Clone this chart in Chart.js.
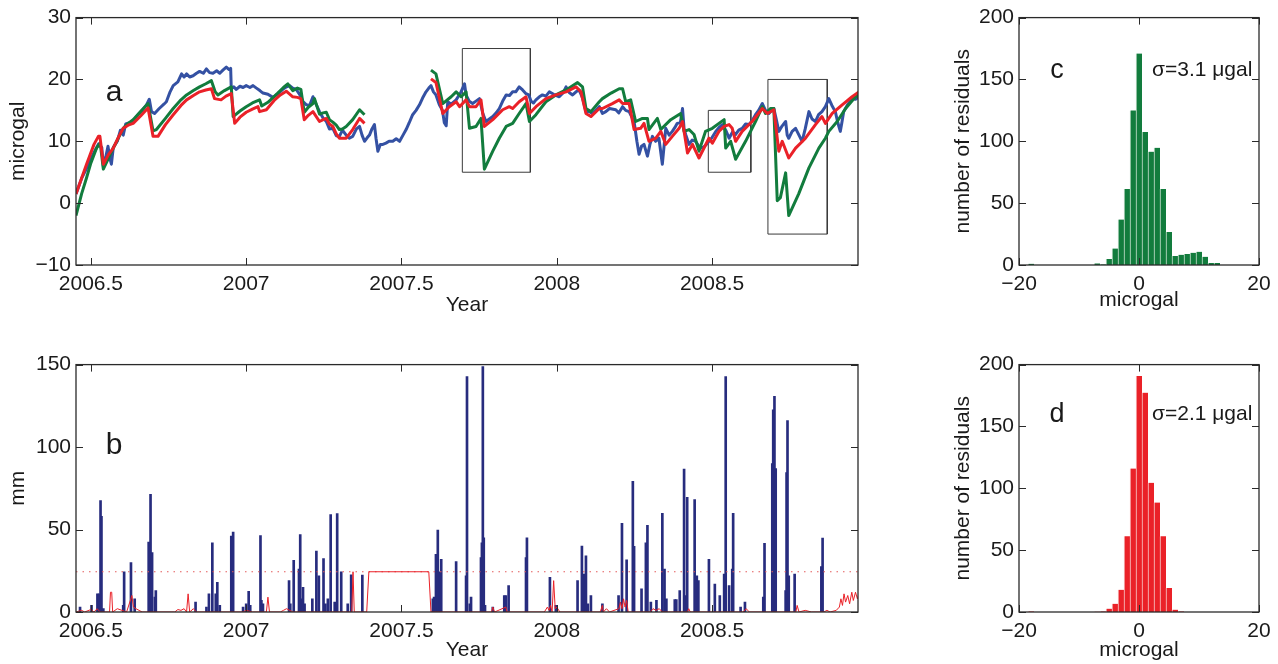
<!DOCTYPE html>
<html>
<head>
<meta charset="utf-8">
<title>Gravity residuals and rainfall</title>
<script src="https://cdn.jsdelivr.net/npm/chart.js@4.4.0/dist/chart.umd.min.js"></script>
<style>
  body { margin: 0; background: #fff; width: 1278px; height: 664px; overflow: hidden; position: relative;
         font-family: "Liberation Sans", Arial, sans-serif; color: #1a1a1a; }
  canvas { position: absolute; }
  .tag { position: absolute; transform: translate(-50%, -50%); line-height: 1; }
  .sigma { position: absolute; transform: translateY(-50%); font-size: 21px; white-space: nowrap; line-height: 1; }
</style>
</head>
<body>
<canvas id="gravity" width="880" height="330" style="left:0;top:0"></canvas>
<canvas id="rain" width="880" height="317" style="left:0;top:347px"></canvas>
<canvas id="histGreen" width="338" height="330" style="left:940px;top:0"></canvas>
<canvas id="histRed" width="338" height="317" style="left:940px;top:347px"></canvas>
<div class="tag" style="left:114px;top:91px;font-size:30px">a</div>
<div class="tag" style="left:114px;top:444px;font-size:30px">b</div>
<div class="tag" style="left:1057px;top:69px;font-size:27px">c</div>
<div class="tag" style="left:1057px;top:413px;font-size:27px">d</div>
<div class="sigma" style="left:1152px;top:68px">σ=3.1 μgal</div>
<div class="sigma" style="left:1152px;top:412px">σ=2.1 μgal</div>
<script>
// axis ranges and tick labels
const yearMin = 2006.452, yearMax = 2008.97;
const yearTicks = [2006.5, 2007, 2007.5, 2008, 2008.5];
const gravityTicks = [-10, 0, 10, 20, 30];
const rainTicks = [0, 50, 100, 150];
const countTicks = [0, 50, 100, 150, 200];
const residualTicks = [-20, 0, 20];

// observed gravity (microgal)
const obsYears = [2006.452, 2006.47, 2006.49, 2006.51, 2006.525, 2006.535, 2006.54, 2006.548, 2006.555, 2006.56,
  2006.566, 2006.572, 2006.585, 2006.595, 2006.604, 2006.612, 2006.625, 2006.636, 2006.65, 2006.665,
  2006.679, 2006.688, 2006.695, 2006.705, 2006.72, 2006.735, 2006.743, 2006.755, 2006.765, 2006.78,
  2006.792, 2006.8, 2006.808, 2006.818, 2006.829, 2006.84, 2006.85, 2006.862, 2006.872, 2006.882,
  2006.893, 2006.905, 2006.915, 2006.925, 2006.936, 2006.945, 2006.95, 2006.952, 2006.96, 2006.968,
  2006.98, 2006.99, 2007.0, 2007.012, 2007.022, 2007.033, 2007.044, 2007.054, 2007.07, 2007.086,
  2007.1, 2007.118, 2007.13, 2007.14, 2007.15, 2007.161, 2007.172, 2007.183, 2007.194, 2007.204,
  2007.215, 2007.225, 2007.236, 2007.247, 2007.258, 2007.268, 2007.279, 2007.29, 2007.3, 2007.31,
  2007.322, 2007.332, 2007.343, 2007.355, 2007.365, 2007.373, 2007.381, 2007.39, 2007.397, 2007.405,
  2007.413, 2007.418, 2007.424, 2007.432, 2007.44, 2007.45, 2007.46, 2007.472, 2007.483, 2007.494,
  2007.505, 2007.515, 2007.525, 2007.536, 2007.547, 2007.558, 2007.568, 2007.579, 2007.588, 2007.595,
  2007.603, 2007.611, 2007.622, 2007.632, 2007.638, 2007.644, 2007.649, 2007.66, 2007.676, 2007.69,
  2007.703, 2007.708, 2007.718, 2007.729, 2007.74, 2007.751, 2007.762, 2007.772, 2007.783, 2007.794,
  2007.805, 2007.815, 2007.826, 2007.837, 2007.848, 2007.858, 2007.868, 2007.879, 2007.89, 2007.901,
  2007.91, 2007.917, 2007.925, 2007.933, 2007.944, 2007.954, 2007.965, 2007.976, 2007.99, 2008.008,
  2008.02, 2008.03, 2008.04, 2008.051, 2008.062, 2008.072, 2008.083, 2008.094, 2008.105, 2008.115,
  2008.126, 2008.137, 2008.147, 2008.158, 2008.17, 2008.19, 2008.2, 2008.212, 2008.222, 2008.233,
  2008.249, 2008.258, 2008.265, 2008.273, 2008.281, 2008.292, 2008.3, 2008.308, 2008.318, 2008.329,
  2008.34, 2008.351, 2008.362, 2008.372, 2008.38, 2008.388, 2008.398, 2008.405, 2008.41, 2008.415,
  2008.426, 2008.436, 2008.447, 2008.458, 2008.469, 2008.48, 2008.49, 2008.5, 2008.512, 2008.522,
  2008.533, 2008.544, 2008.555, 2008.566, 2008.576, 2008.586, 2008.597, 2008.608, 2008.619, 2008.63,
  2008.64, 2008.65, 2008.662, 2008.672, 2008.683, 2008.692, 2008.699, 2008.707, 2008.715, 2008.726,
  2008.737, 2008.742, 2008.747, 2008.758, 2008.769, 2008.78, 2008.79, 2008.8, 2008.812, 2008.822,
  2008.833, 2008.843, 2008.854, 2008.865, 2008.876, 2008.886, 2008.897, 2008.905, 2008.913, 2008.918,
  2008.924, 2008.935, 2008.951, 2008.962, 2008.973];
const obsGravity = [1.5, 4, 6, 8.2, 9.6, 9.0, 6.0, 7.5, 9.2, 7.5,
  6.3, 9.0, 10.0, 11.8, 11.0, 12.8, 13.0, 13.3, 14.2, 15.0,
  15.9, 16.8, 14.8, 14.5, 15.3, 16.0, 16.4, 18.0, 19.0, 19.6,
  20.9, 20.4, 20.9, 20.4, 20.6, 21.0, 21.3, 21.0, 21.7, 21.1,
  21.0, 21.4, 21.0, 21.5, 22.0, 21.6, 21.8, 18.5, 18.8, 18.4,
  18.9, 18.7, 19.0, 18.7, 19.0, 18.6, 18.2, 17.8, 17.6, 17.1,
  17.6, 18.4, 18.8, 19.0, 18.6, 18.4, 17.6, 16.4, 15.9, 15.8,
  17.2, 16.0, 14.8, 13.8, 13.2, 12.0, 12.1, 10.9, 10.8, 11.8,
  11.0, 10.5, 10.8, 12.0, 12.4, 11.0, 10.0, 10.6, 11.0, 12.0,
  12.7, 10.5, 8.4, 9.5, 9.5, 9.7, 10.0, 10.0, 10.4, 10.0,
  11.0, 11.9, 13.0, 14.3, 15.0, 15.9, 17.0, 18.0, 18.6, 19.0,
  18.0, 17.5, 15.9, 15.0, 13.0, 12.5, 16.4, 16.0, 16.7, 17.8,
  19.3, 17.5, 16.5, 16.1, 16.5, 16.9, 14.5, 13.2, 13.6, 14.0,
  14.6, 15.3, 16.5, 17.5, 17.4, 18.0, 18.0, 18.8, 18.3, 17.7,
  17.5, 16.5, 16.2, 16.7, 17.2, 17.5, 17.3, 18.0, 17.6, 17.2,
  17.8, 18.8, 17.9, 17.5, 18.0, 18.3, 17.0, 14.8, 14.8, 14.5,
  15.0, 15.6, 14.5, 14.8, 15.3, 15.1, 14.6, 15.6, 15.0, 14.8,
  13.2, 10.0, 7.9, 9.2, 9.5, 7.6, 9.5, 10.8, 10.0, 10.5,
  6.3, 12.1, 11.0, 11.6, 12.2, 12.9, 13.0, 15.3, 12.0, 11.1,
  9.5, 10.2, 10.0, 9.2, 8.9, 9.4, 10.0, 10.6, 11.6, 12.2,
  12.7, 11.8, 10.5, 11.5, 11.1, 11.8, 12.1, 12.8, 12.7, 13.4,
  14.3, 15.0, 16.1, 15.0, 14.5, 15.0, 15.3, 13.5, 11.6, 12.5,
  13.2, 11.0, 10.5, 11.6, 12.1, 11.0, 10.0, 12.0, 14.8, 13.6,
  13.2, 14.3, 14.8, 15.6, 16.9, 15.8, 14.8, 13.0, 11.6, 13.0,
  14.8, 15.8, 16.9, 16.8, 17.2];

// first model (null = no model output)
const modelAYears = [2006.452, 2006.47, 2006.486, 2006.5, 2006.518, 2006.53, 2006.54, 2006.556, 2006.572, 2006.59,
  2006.604, 2006.62, 2006.636, 2006.66, 2006.684, 2006.7, 2006.711, 2006.74, 2006.765, 2006.79,
  2006.808, 2006.83, 2006.85, 2006.87, 2006.888, 2006.9, 2006.909, 2006.93, 2006.952, 2006.958,
  2006.98, 2007.0, 2007.02, 2007.043, 2007.05, 2007.07, 2007.1, 2007.12, 2007.134, 2007.15,
  2007.165, 2007.176, 2007.187, 2007.2, 2007.215, 2007.22, 2007.236, 2007.248, 2007.258, 2007.268,
  2007.279, 2007.29, 2007.3, 2007.31, 2007.322, 2007.343, 2007.365, 2007.381, 2007.49,
  2007.595, 2007.611, 2007.633, 2007.66, 2007.676, 2007.692, 2007.708, 2007.719, 2007.74, 2007.756,
  2007.767, 2007.794, 2007.815, 2007.837, 2007.858, 2007.879, 2007.901, 2007.912, 2007.933, 2007.965,
  2007.997, 2008.03, 2008.067, 2008.083, 2008.094, 2008.11, 2008.137, 2008.147, 2008.175, 2008.201,
  2008.212, 2008.222, 2008.238, 2008.254, 2008.276, 2008.292, 2008.297, 2008.324, 2008.335, 2008.367,
  2008.399, 2008.41, 2008.426, 2008.442, 2008.458, 2008.479, 2008.501, 2008.539, 2008.544, 2008.56,
  2008.576, 2008.608, 2008.64, 2008.662, 2008.672, 2008.688, 2008.699, 2008.71, 2008.72, 2008.737,
  2008.747, 2008.779, 2008.812, 2008.844, 2008.865, 2008.876, 2008.903, 2008.93, 2008.962, 2008.973];
const modelAGravity = [-2, 1.5, 4.1, 6.5, 8.9, 9.7, 5.5, 7.2, 8.9, 10.7,
  12.1, 12.9, 13.5, 14.8, 16.1, 11.7, 11.9, 13.7, 15.3, 16.7,
  17.5, 18.2, 18.8, 19.3, 19.8, 18.0, 17.5, 18.2, 18.8, 14.0,
  14.9, 15.6, 16.2, 16.7, 15.7, 16.3, 17.7, 18.7, 19.3, 18.2,
  18.6, 18.4, 14.7, 15.5, 16.1, 16.9, 14.4, 14.6, 14.7, 13.5,
  13.1, 12.6, 11.9, 12.0, 12.4, 13.5, 15.1, 14.3, null,
  21.5, 20.9, 16.1, 17.2, 18.0, 17.2, 18.0, 12.1, 12.4, 13.7,
  5.5, 8.4, 10.5, 12.4, 12.9, 14.5, 16.1, 13.2, 14.3, 16.4,
  17.5, 18.3, 19.5, 18.8, 15.3, 14.8, 16.4, 16.9, 17.8, 18.5,
  18.5, 16.4, 16.7, 13.2, 13.7, 13.7, 11.9, 13.7, 11.9, 13.5,
  14.5, 11.6, 11.9, 11.1, 8.4, 11.6, 12.1, 13.5, 8.9, 10.0,
  7.1, 10.0, 13.2, 15.6, 14.5, 15.3, 15.3, 0.4, 0.9, 4.9,
  -2.0, 1.5, 5.7, 8.9, 10.5, 11.6, 13.2, 15.3, 17.2, 17.5];

// second model
const modelBYears = [2006.452, 2006.486, 2006.51, 2006.524, 2006.529, 2006.54, 2006.556, 2006.572, 2006.59, 2006.604,
  2006.62, 2006.636, 2006.66, 2006.684, 2006.7, 2006.716, 2006.74, 2006.765, 2006.79, 2006.808,
  2006.83, 2006.85, 2006.87, 2006.888, 2006.898, 2006.919, 2006.935, 2006.952, 2006.963, 2006.98,
  2007.0, 2007.02, 2007.038, 2007.043, 2007.065, 2007.09, 2007.11, 2007.129, 2007.15, 2007.165,
  2007.176, 2007.187, 2007.2, 2007.215, 2007.236, 2007.248, 2007.258, 2007.268, 2007.279, 2007.29,
  2007.3, 2007.322, 2007.343, 2007.365, 2007.381, 2007.49,
  2007.595, 2007.611, 2007.633, 2007.654, 2007.676, 2007.687, 2007.708, 2007.719, 2007.74, 2007.756,
  2007.767, 2007.794, 2007.826, 2007.847, 2007.858, 2007.879, 2007.901, 2007.912, 2007.933, 2007.965,
  2007.997, 2008.03, 2008.062, 2008.078, 2008.094, 2008.11, 2008.137, 2008.147, 2008.179, 2008.201,
  2008.212, 2008.233, 2008.249, 2008.27, 2008.281, 2008.297, 2008.319, 2008.335, 2008.351, 2008.372,
  2008.394, 2008.405, 2008.421, 2008.437, 2008.458, 2008.49, 2008.501, 2008.522, 2008.539, 2008.555,
  2008.565, 2008.576, 2008.597, 2008.629, 2008.662, 2008.678, 2008.699, 2008.715, 2008.726, 2008.747,
  2008.769, 2008.801, 2008.833, 2008.854, 2008.865, 2008.887, 2008.919, 2008.951, 2008.973];
const modelBGravity = [1.5, 6.3, 9.5, 10.8, 10.8, 6.3, 7.8, 8.9, 10.8, 12.1,
  12.6, 12.9, 14.1, 15.4, 10.8, 10.8, 12.7, 14.3, 15.8, 16.7,
  17.4, 18.0, 18.3, 18.5, 16.9, 16.7, 17.3, 17.7, 12.9, 13.9,
  14.7, 15.2, 15.6, 14.8, 15.1, 16.6, 17.5, 18.1, 17.2, 17.1,
  16.9, 13.5, 14.2, 14.8, 13.2, 13.5, 13.7, 12.8, 12.4, 11.2,
  10.5, 10.5, 11.9, 13.7, 12.9, null,
  20.1, 19.5, 14.5, 15.6, 16.4, 15.6, 16.7, 15.6, 15.6, 16.7,
  12.4, 13.5, 15.1, 15.6, 15.3, 16.4, 17.2, 14.5, 15.6, 16.9,
  17.5, 18.0, 18.8, 18.0, 14.5, 14.0, 15.3, 15.3, 16.1, 16.7,
  16.1, 16.1, 11.9, 12.1, 12.9, 10.0, 10.5, 11.6, 9.5, 10.8,
  12.1, 13.2, 8.1, 9.5, 7.3, 10.5, 9.7, 11.6, 12.4, 12.7,
  12.1, 10.0, 11.6, 13.2, 15.3, 14.5, 15.1, 8.4, 10.0, 7.3,
  8.9, 10.5, 12.7, 14.0, 12.9, 14.5, 15.9, 17.2, 18.0];

// highlighted windows (years, microgal)
const boxStart = [2007.696, 2008.488, 2008.68];
const boxEnd = [2007.915, 2008.625, 2008.871];
const boxLow = [5, 5, -5];
const boxHigh = [25, 15, 20];

// daily rainfall (mm)
const rainYears = [2006.465, 2006.502, 2006.521, 2006.526, 2006.531, 2006.534, 2006.54, 2006.604, 2006.607, 2006.629,
  2006.641, 2006.686, 2006.692, 2006.697, 2006.706, 2006.709, 2006.837, 2006.872, 2006.88, 2006.891,
  2006.902, 2006.907, 2006.915, 2006.952, 2006.958, 2006.99, 2007.0, 2007.008, 2007.013, 2007.046,
  2007.049, 2007.054, 2007.138, 2007.142, 2007.153, 2007.17, 2007.174, 2007.178, 2007.183, 2007.188,
  2007.213, 2007.226, 2007.234, 2007.249, 2007.255, 2007.263, 2007.272, 2007.285, 2007.293, 2007.306,
  2007.327, 2007.338, 2007.374, 2007.601, 2007.605, 2007.611, 2007.617, 2007.625, 2007.628, 2007.676,
  2007.708, 2007.711, 2007.72, 2007.724, 2007.756, 2007.759, 2007.762, 2007.765, 2007.769, 2007.794,
  2007.831, 2007.836, 2007.845, 2007.901, 2007.904, 2007.978, 2007.997, 2008.067, 2008.081, 2008.088,
  2008.094, 2008.1, 2008.11, 2008.147, 2008.199, 2008.21, 2008.225, 2008.245, 2008.249, 2008.273,
  2008.287, 2008.292, 2008.303, 2008.321, 2008.34, 2008.347, 2008.353, 2008.38, 2008.385, 2008.396,
  2008.41, 2008.414, 2008.42, 2008.444, 2008.451, 2008.456, 2008.49, 2008.509, 2008.525, 2008.539,
  2008.544, 2008.555, 2008.565, 2008.568, 2008.592, 2008.606, 2008.665, 2008.669, 2008.694, 2008.697,
  2008.701, 2008.705, 2008.737, 2008.74, 2008.743, 2008.747, 2008.766, 2008.852, 2008.856];
const rainMm = [3, 4, 11, 11, 67.6, 58, 2, 4, 24.4, 30,
  8, 42.4, 71.4, 36, 9, 13, 6, 3, 11, 42,
  11, 18, 4, 46, 48.4, 3, 5, 12.6, 4, 46.4,
  7, 5, 19, 5, 31.4, 26, 47, 8, 15, 5,
  8, 37, 22, 32.4, 5, 8, 59, 6, 59.6, 24.4,
  5, 22.6, 22.4, 8, 9, 35, 49.6, 24.4, 32, 30.5,
  22, 142.8, 5, 9, 33, 42, 148.8, 45, 4, 3,
  10, 10, 16, 33, 45, 21, 4, 19, 40, 23,
  34, 5, 10, 5, 10, 53.8, 31.6, 79.2, 39.8, 14,
  42, 52.6, 6, 7, 59.8, 26, 8, 7.6, 7.6, 13,
  86.6, 10, 69.6, 68.2, 22, 19, 32, 17, 10, 23,
  142.8, 16, 26, 59.8, 3, 6, 9, 41.6, 90, 122.6,
  130.8, 87, 13, 84.6, 116, 22, 23, 27.6, 44.8];

// second rainfall record (mm), drawn as a thin line
const gaugeYears = [2006.452, 2006.47, 2006.48, 2006.5, 2006.51, 2006.52, 2006.53, 2006.56, 2006.563, 2006.567,
  2006.57, 2006.585, 2006.6, 2006.615, 2006.632, 2006.637, 2006.645, 2006.655, 2006.665, 2006.77,
  2006.78, 2006.79, 2006.8, 2006.808, 2006.813, 2006.818, 2006.83, 2006.84, 2006.99, 2007.0,
  2007.02, 2007.065, 2007.07, 2007.075, 2007.11, 2007.12, 2007.13, 2007.14, 2007.15, 2007.34,
  2007.344, 2007.348, 2007.388, 2007.395, 2007.588, 2007.595, 2007.79, 2007.794, 2007.8, 2007.836,
  2007.84, 2007.96, 2007.97, 2007.975, 2007.98, 2007.985, 2007.99, 2007.995, 2008.0, 2008.01,
  2008.14, 2008.147, 2008.15, 2008.16, 2008.17, 2008.2, 2008.205, 2008.21, 2008.215, 2008.22,
  2008.225, 2008.23, 2008.3, 2008.31, 2008.32, 2008.33, 2008.34, 2008.42, 2008.425, 2008.43,
  2008.6, 2008.61, 2008.62, 2008.77, 2008.774, 2008.78, 2008.8, 2008.82, 2008.86, 2008.87,
  2008.88, 2008.9, 2008.91, 2008.915, 2008.92, 2008.925, 2008.93, 2008.937, 2008.943, 2008.95,
  2008.955, 2008.962, 2008.968, 2008.973];
const gaugeMm = [0, 1, 0, 1.5, 0, 2, 0, 0, 12, 12,
  0, 2, 1, 0, 10, 3, 2, 1, 0, 0,
  1.5, 1, 2, 0, 11, 0, 2, 0, 0, 1,
  0, 0, 9, 0, 0, 1, 2, 1, 0, 0,
  24.4, 0, 0, 24.4, 24.4, 0, 0, 3, 0, 3,
  0, 0, 3, 1, 4, 0, 19, 2, 3, 0,
  0, 4, 0, 2, 0, 2, 6, 2, 8, 3,
  7, 0, 0, 2, 1, 2, 0, 0, 2, 0,
  0, 2, 0, 0, 4, 0, 1, 0, 0, 1,
  0, 1, 3, 8, 4, 11, 6, 10, 5, 12,
  7, 12, 8, 11];
const rainThreshold = 24.4;

// residual histograms (bin centre in microgal, count)
const binsA = [-18, -7, -6, -5, -4, -3, -2, -1, 0, 1, 2, 3, 4, 5, 6, 7, 8, 9, 10, 11, 12, 13];
const countsA = [1, 1.3, 0.5, 4.8, 13.3, 36.8, 61.4, 125, 171, 107.6, 91.6, 94.8, 61.4, 26.7, 7.2, 8.3, 8.8, 9.9, 10.7, 6.7, 1.6, 1.6];
const binsB = [-18, -7, -6, -5, -4, -3, -2, -1, 0, 1, 2, 3, 4, 5, 6, 7];
const countsB = [0.5, 0.3, 0.5, 2.7, 6.7, 17.9, 61.3, 116, 190.7, 177.3, 104.5, 88.5, 61.3, 19.5, 1.9, 0.5];

const BLUE = '#3451a3', GREEN = '#127c3d', RED = '#ea2128', NAVY = '#272c7e';

Chart.defaults.font.family = '"Liberation Sans", Arial, sans-serif';
Chart.defaults.font.size = 21;
Chart.defaults.color = '#1a1a1a';

function pairs(xs, ys) {
  return xs.map((x, i) => ({ x: x, y: ys[i] }));
}
function fmt(v) {
  return v < 0 ? '\u2212' + Math.abs(v) : String(v);
}

// closed frame with inward tick marks on all four sides
const frameTicks = {
  id: 'frameTicks',
  afterDatasetsDraw(chart) {
    const { ctx, chartArea: a, scales } = chart;
    const len = 7;
    ctx.save();
    ctx.strokeStyle = '#2a2a2a';
    ctx.lineWidth = 1;
    ctx.beginPath();
    scales.x.ticks.forEach(t => {
      const p = Math.round(scales.x.getPixelForValue(t.value)) + 0.5;
      ctx.moveTo(p, a.bottom); ctx.lineTo(p, a.bottom - len);
      ctx.moveTo(p, a.top); ctx.lineTo(p, a.top + len);
    });
    scales.y.ticks.forEach(t => {
      const p = Math.round(scales.y.getPixelForValue(t.value)) + 0.5;
      ctx.moveTo(a.left, p); ctx.lineTo(a.left + len, p);
      ctx.moveTo(a.right, p); ctx.lineTo(a.right - len, p);
    });
    ctx.stroke();
    ctx.lineWidth = 1.3;
    ctx.strokeRect(a.left, a.top, a.right - a.left, a.bottom - a.top);
    ctx.restore();
  }
};

function xAxis(min, max, ticks, title, height, titlePad) {
  return {
    type: 'linear', min: min, max: max, offset: false,
    grid: { display: false, drawTicks: false },
    border: { display: false },
    afterBuildTicks: s => { s.ticks = ticks.map(v => ({ value: v })); },
    afterFit: s => { s.height = height; },
    ticks: { padding: 7, maxRotation: 0, autoSkip: false, callback: v => fmt(v) },
    title: { display: true, text: title, padding: { top: 0, bottom: titlePad } }
  };
}
function yAxis(min, max, ticks, title, width, titlePad) {
  return {
    type: 'linear', min: min, max: max,
    grid: { display: false, drawTicks: false },
    border: { display: false },
    afterBuildTicks: s => { s.ticks = ticks.map(v => ({ value: v })); },
    afterFit: s => { s.width = width; },
    ticks: { padding: 5, autoSkip: false, callback: v => fmt(v) },
    title: { display: true, text: title, padding: { top: titlePad, bottom: 0 } }
  };
}
const quiet = { legend: { display: false }, tooltip: { enabled: false } };

function gravityLine(xs, ys, color) {
  return { data: pairs(xs, ys), borderColor: color, borderWidth: 3, pointRadius: 0, tension: 0,
           spanGaps: false, borderJoinStyle: 'round' };
}
const boxSets = boxStart.map((x0, i) => ({
  data: pairs([x0, boxEnd[i], boxEnd[i], x0, x0], [boxHigh[i], boxHigh[i], boxLow[i], boxLow[i], boxHigh[i]]),
  borderColor: '#3a3a3a', borderWidth: 1, pointRadius: 0, tension: 0
}));

new Chart(document.getElementById('gravity'), {
  type: 'line',
  data: {
    datasets: [
      gravityLine(modelBYears, modelBGravity, RED),
      gravityLine(modelAYears, modelAGravity, GREEN),
      gravityLine(obsYears, obsGravity, BLUE)
    ].concat(boxSets)
  },
  options: {
    responsive: false, animation: false, plugins: quiet,
    layout: { padding: { top: 15, right: 22, left: 0, bottom: 0 } },
    scales: {
      x: xAxis(yearMin, yearMax, yearTicks, 'Year', 65, 12),
      y: yAxis(-10, 30, gravityTicks, 'microgal', 76, 6)
    }
  },
  plugins: [frameTicks]
});

new Chart(document.getElementById('rain'), {
  type: 'bar',
  data: {
    datasets: [
      { type: 'line', data: pairs(gaugeYears, gaugeMm), borderColor: RED, borderWidth: 1, pointRadius: 0, tension: 0 },
      { type: 'line', data: pairs([yearMin, yearMax], [rainThreshold, rainThreshold]), borderColor: '#e35a5a',
        borderWidth: 1, borderDash: [1.5, 5], pointRadius: 0 },
      { type: 'bar', data: pairs(rainYears, rainMm), backgroundColor: NAVY, barThickness: 2, borderWidth: 0 }
    ]
  },
  options: {
    responsive: false, animation: false, plugins: quiet,
    layout: { padding: { top: 15, right: 22, left: 0, bottom: 0 } },
    scales: {
      x: xAxis(yearMin, yearMax, yearTicks, 'Year', 52, 1),
      y: yAxis(0, 150, rainTicks, 'mm', 76, 6)
    }
  },
  plugins: [frameTicks]
});

function histogram(id, bins, counts, color, edge, height, titlePad) {
  new Chart(document.getElementById(id), {
    type: 'bar',
    data: {
      datasets: [{
        data: pairs(bins, counts), backgroundColor: color, borderColor: edge,
        borderWidth: { left: 1, right: 0, top: 0, bottom: 0 },
        barPercentage: 1, categoryPercentage: 1
      }]
    },
    options: {
      responsive: false, animation: false, plugins: quiet,
      layout: { padding: { top: 15, right: 19, left: 0, bottom: 0 } },
      scales: {
        x: xAxis(-20, 20, residualTicks, 'microgal', height, titlePad),
        y: yAxis(0, 200, countTicks, 'number of residuals', 79, 11)
      }
    },
    plugins: [frameTicks]
  });
}
histogram('histGreen', binsA, countsA, GREEN, '#cfe5d6', 65, 17);
histogram('histRed', binsB, countsB, RED, '#f8d0d0', 52, 1);
</script>
</body>
</html>
